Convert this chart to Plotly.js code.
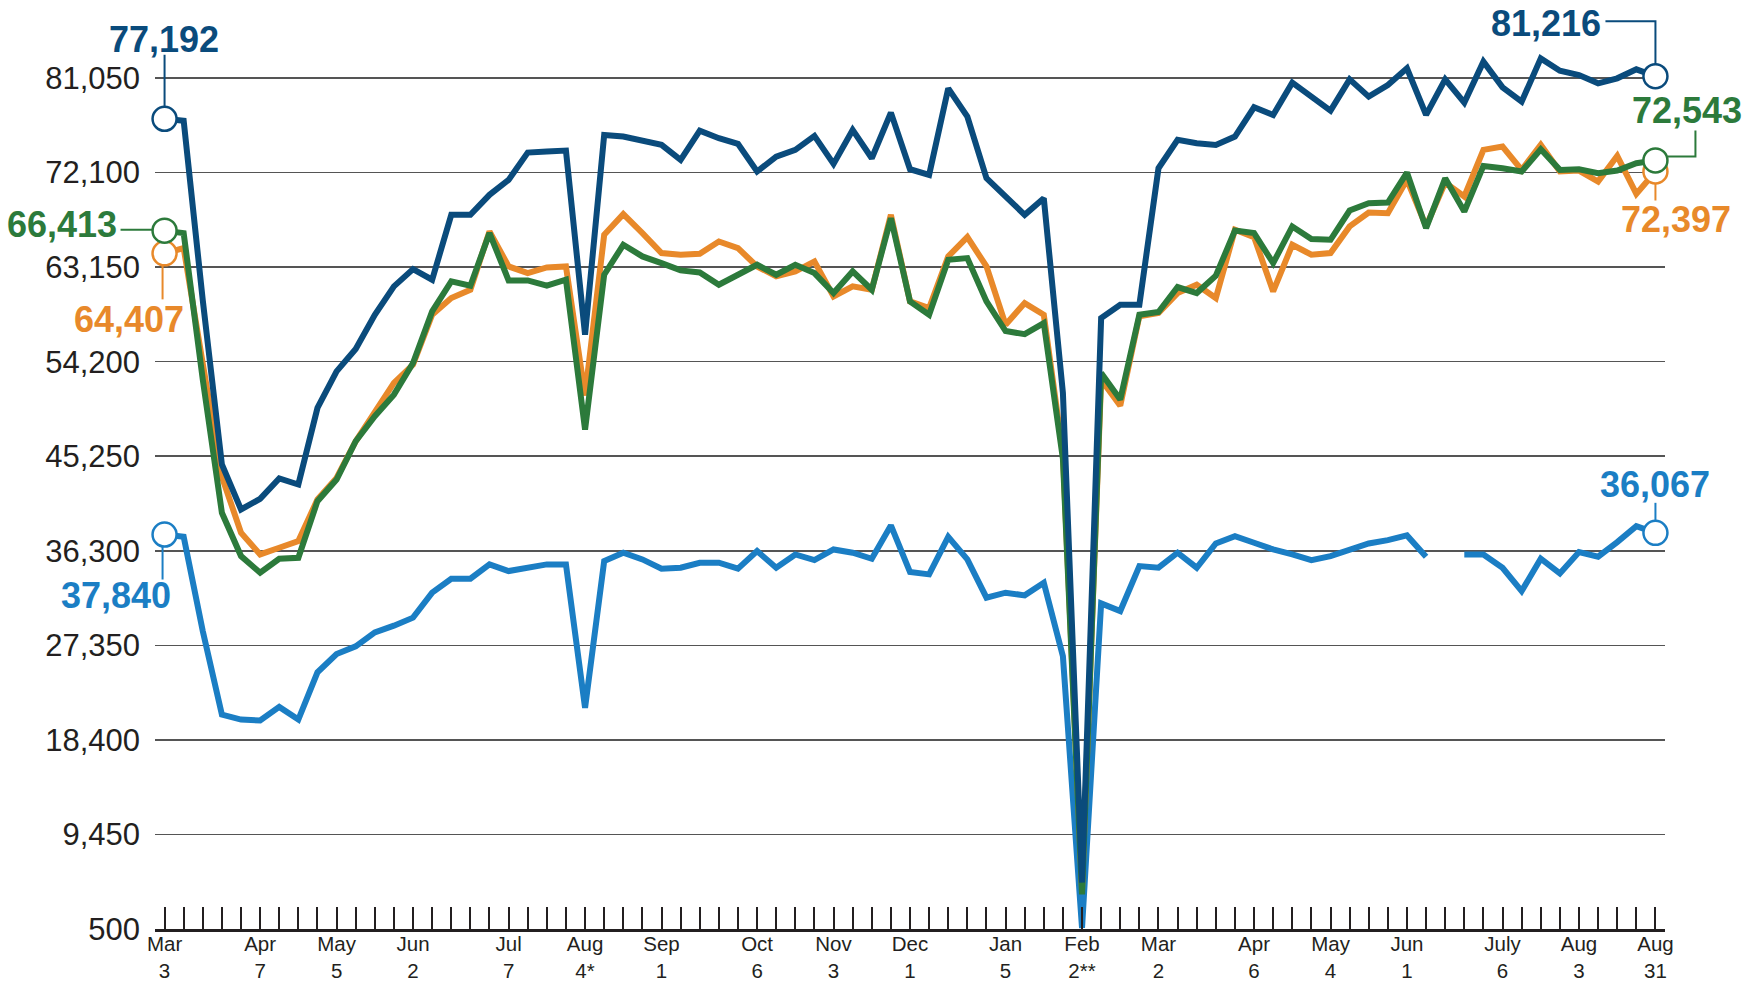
<!DOCTYPE html>
<html><head><meta charset="utf-8">
<script src="https://cdn.plot.ly/plotly-3.0.1.min.js"></script>
<style>html,body{margin:0;padding:0;background:#fff}#chart{width:1746px;height:982px}</style>
</head><body><div id="chart"></div>
<script>
// ---- data ----
const labelWeeks  = [0, 5, 9, 13, 18, 22, 26, 31, 35, 39, 44, 48, 52, 57, 61, 65, 70, 74, 78];
const labelMonths = ['Mar','Apr','May','Jun','Jul','Aug','Sep','Oct','Nov','Dec','Jan','Feb','Mar','Apr','May','Jun','July','Aug','Aug'];
const labelDays   = ['3','7','5','2','7','4*','1','6','3','1','5','2**','2','6','4','1','6','3','31'];
const yTicks = [500, 9450, 18400, 27350, 36300, 45250, 54200, 63150, 72100, 81050];

const navy = [77192, 77000, 60000, 44463, 40210, 41218, 43140, 42573, 49820, 53286, 55397, 58643, 61325, 62963, 61955, 68099, 68099, 69990, 71408, 73992, 74086, 74180, 56752, 75662, 75504, 75126, 74717, 73299, 76071, 75347, 74811, 72196, 73614, 74244, 75567, 72920, 76134, 73456, 77773, 72416, 71880, 80073, 77395, 71565, 69832, 68099, 69675, 51238, 4900, 58328, 59588, 59588, 72511, 75200, 74874, 74717, 75504, 78277, 77552, 80609, 79285, 77962, 80924, 79285, 80388, 81964, 77552, 80924, 78718, 82594, 80168, 78813, 82909, 81743, 81334, 80546, 81018, 81869, 81216];
const orange = [64450, 64948, 54000, 43300, 38004, 35956, 36586, 37216, 41155, 43200, 46669, 49347, 52184, 53916, 58647, 60223, 61010, 66523, 63215, 62585, 63120, 63215, 51000, 66209, 68162, 66366, 64476, 64318, 64413, 65579, 64948, 63215, 62270, 62743, 63688, 60381, 61325, 61010, 68099, 59907, 59277, 64161, 65989, 63215, 57700, 59746, 58643, 45500, 4200, 52500, 50041, 58500, 58805, 60694, 61482, 60221, 66681, 65988, 60852, 65264, 64318, 64476, 67002, 68320, 68257, 71408, 67002, 71156, 69832, 74244, 74559, 72353, 74717, 72196, 72290, 71250, 73677, 70085, 72200];
const green = [66600, 66366, 52500, 39895, 35798, 34222, 35546, 35640, 40997, 43046, 46669, 49032, 51080, 54074, 58962, 61798, 61388, 66366, 61892, 61892, 61388, 61955, 47772, 62427, 65264, 64161, 63531, 62837, 62648, 61482, 62427, 63373, 62427, 63373, 62585, 60696, 62743, 61010, 67784, 59907, 58647, 63846, 64003, 59907, 57100, 56800, 57855, 45000, 3780, 53129, 50608, 58643, 58900, 61262, 60694, 62333, 66618, 66366, 63530, 66996, 65799, 65736, 68509, 69202, 69265, 72100, 66838, 71565, 68414, 72730, 72510, 72195, 74306, 72353, 72416, 72038, 72290, 72983, 73250];
const lightBlue = [37840, 37626, 28700, 20796, 20323, 20229, 21521, 20323, 24798, 26531, 27255, 28579, 29209, 29969, 32332, 33655, 33655, 35010, 34380, 34695, 35010, 35010, 21426, 35325, 36113, 35483, 34601, 34695, 35168, 35168, 34601, 36271, 34695, 35955, 35420, 36428, 36113, 35546, 38697, 34286, 34065, 37626, 35483, 31860, 32332, 32080, 33277, 26310, 600, 31324, 30600, 34853, 34695, 36113, 34695, 36995, 37689, 37058, 36428, 35955, 35420, 35798, 36365, 36995, 37311, 37752, 35735, null, 35955, 35955, 34695, 32490, 35546, 34160, 36176, 35735, 37122, 38634, 38000];

const navyEnds = ['77,192', '81,216'];
const orangeEnds = ['64,407', '72,397'];
const greenEnds = ['66,413', '72,543'];
const lightBlueEnds = ['37,840', '36,067'];

// ---- styles / layout ----
const C = {navy:'#0A4B7C', orange:'#E8892A', green:'#2C7A3B', light:'#1B7EC4', text:'#231F20'};
const FONT = '"Liberation Sans", Arial, Helvetica, sans-serif';
const weeks = navy.map((_, i) => i);
const xRange = [-0.5, 78.5];
const yRange = [500, 87486];
const last = weeks.length - 1;
const paperX = w => (w - xRange[0]) / (xRange[1] - xRange[0]);

const ticktext = weeks.map(w => {
  const k = labelWeeks.indexOf(w);
  return k >= 0 ? labelMonths[k] + '<br>' + labelDays[k] : '';
});

function lineTrace(y, color) {
  return {x: weeks, y: y, type: 'scatter', mode: 'lines', connectgaps: false,
    line: {color: color, width: 6, shape: 'linear'}, hoverinfo: 'skip', cliponaxis: false};
}
function endTrace(y, color) {
  return {x: [weeks[0], weeks[last]], y: [y[0], y[last]], type: 'scatter', mode: 'markers',
    marker: {size: 24, color: '#ffffff', line: {color: color, width: 2.5}}, hoverinfo: 'skip', cliponaxis: false};
}

// label placement: [xshift, yshift, xanchor] and leader polyline (pixel offsets, y up)
const ends = [
  {y: navy, idx: 0, text: navyEnds[0], color: C.navy, dx: -1, dy: 79, xa: 'center', path: [[0,12],[0,64]]},
  {y: navy, idx: last, text: navyEnds[1], color: C.navy, dx: -109, dy: 53, xa: 'center', path: [[-50,55],[0,55],[0,12]]},
  {y: green, idx: 0, text: greenEnds[0], color: C.green, dx: -46, dy: 6, xa: 'right', path: [[-44,1],[-12,1]]},
  {y: green, idx: last, text: greenEnds[1], color: C.green, dx: 32, dy: 50, xa: 'center', path: [[12,4],[40,4],[40,30]]},
  {y: orange, idx: 0, text: orangeEnds[0], color: C.orange, dx: -36, dy: -66, xa: 'center', path: [[-2,-12],[-2,-46]]},
  {y: orange, idx: last, text: orangeEnds[1], color: C.orange, dx: 21, dy: -48, xa: 'center', path: [[0,-12],[0,-29]]},
  {y: lightBlue, idx: 0, text: lightBlueEnds[0], color: C.light, dx: -49, dy: -61, xa: 'center', path: [[-2,-12],[-2,-45]]},
  {y: lightBlue, idx: last, text: lightBlueEnds[1], color: C.light, dx: 0, dy: 48, xa: 'center', path: [[0,12],[0,30]]}
];

const annotations = ends.map(e => ({
  x: weeks[e.idx], y: e.y[e.idx], xref: 'x', yref: 'y', text: '<b>' + e.text + '</b>',
  showarrow: false, xshift: e.dx, yshift: e.dy, xanchor: e.xa, yanchor: 'middle',
  font: {family: FONT, size: 36, color: e.color}
}));
const shapes = ends.map(e => ({
  type: 'path', xref: 'paper', yref: 'y', xsizemode: 'pixel', ysizemode: 'pixel',
  xanchor: paperX(weeks[e.idx]), yanchor: e.y[e.idx],
  path: 'M' + e.path.map(p => p[0] + ',' + p[1]).join(' L'),
  line: {color: e.color, width: 2}, layer: 'above'
}));

const data = [
  lineTrace(lightBlue, C.light), lineTrace(orange, C.orange), lineTrace(green, C.green), lineTrace(navy, C.navy),
  endTrace(lightBlue, C.light), endTrace(orange, C.orange), endTrace(green, C.green), endTrace(navy, C.navy)
];

const layout = {
  width: 1746, height: 982,
  margin: {l: 155, r: 81, t: 10, b: 53, pad: 0},
  paper_bgcolor: '#ffffff', plot_bgcolor: '#ffffff',
  showlegend: false,
  font: {family: FONT, color: C.text},
  xaxis: {
    range: xRange, tickvals: weeks, ticktext: ticktext, ticks: 'inside', ticklen: 22, tickwidth: 2,
    tickcolor: C.text, showgrid: false, zeroline: false, showline: true, linecolor: C.text, linewidth: 2.5,
    ticklabelstandoff: -5,
    tickfont: {family: FONT, size: 20.5, color: C.text}, fixedrange: true, automargin: false
  },
  yaxis: {
    range: yRange, tickvals: yTicks, tickformat: ',d', ticks: '', showgrid: true, gridcolor: '#555555',
    gridwidth: 1.5, zeroline: false, showline: false, ticklabelstandoff: 14,
    tickfont: {family: FONT, size: 31, color: C.text}, fixedrange: true, automargin: false
  },
  annotations: annotations,
  shapes: shapes
};

Plotly.newPlot('chart', data, layout, {staticPlot: true, displayModeBar: false});
</script>
</body></html>
